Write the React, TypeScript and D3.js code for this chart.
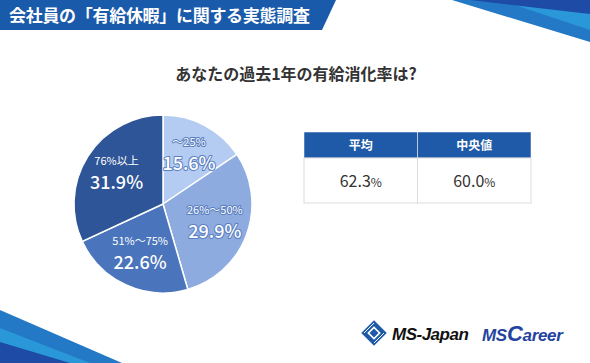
import React from "react";
import * as d3 from "d3";

const categories = ["〜25%", "26%〜50%", "51%〜75%", "76%以上"];
const shares = [15.6, 29.9, 22.6, 31.9];
const sliceColors = ["#b4cbf2", "#8eabe0", "#4a74bb", "#2e5597"];
const tableHeads = ["平均", "中央値"];
const tableValues = ["62.3", "60.0"];

const W = 590;
const H = 363;
const font = "'Noto Sans CJK JP', 'Noto Sans', sans-serif";

export default function App() {
  const cx = 163;
  const cy = 204;
  const r = 89;
  const pie = d3.pie<number>().sort(null).value((d) => d);
  const arcs = pie(shares);
  const arc = d3.arc<d3.PieArcDatum<number>>().innerRadius(0).outerRadius(r);
  const labelArc = d3.arc<d3.PieArcDatum<number>>().innerRadius(r * 0.62).outerRadius(r * 0.62);

  // table columns
  const tx = d3.scaleBand<string>().domain(tableHeads).range([304, 531]);

  return (
    <div style={{ position: "fixed", left: 0, top: 0 }}>
      <svg width={W} height={H} style={{ display: "block", background: "#fff", fontFamily: font }}>
        {/* banner */}
        <polygon points="0,0 336,0 322,30 0,30" fill="#1a5aaa" />
        <text x={9} y={22} fill="#fff" fontSize={17} fontWeight={700} letterSpacing={-0.3}>
          会社員の「有給休暇」に関する実態調査
        </text>

        {/* corner decorations */}
        <polygon points="452,0 590,0 590,42" fill="#2379c6" />
        <polygon points="500,0 590,0 590,30" fill="#2a97d8" />
        <polygon points="470,0 590,0 590,14" fill="#1d4ba6" />
        <polygon points="0,310 122,363 0,363" fill="#2379c6" />
        <polygon points="0,328 90,363 0,363" fill="#2a97d8" />
        <polygon points="0,342 70,363 0,363" fill="#1d4ba6" />

        <text x={296} y={80} textAnchor="middle" fill="#333" fontSize={16} fontWeight={700}>
          あなたの過去1年の有給消化率は?
        </text>

        {/* pie */}
        <g transform={`translate(${cx},${cy})`}>
          {arcs.map((a, i) => (
            <path key={i} d={arc(a) || ""} fill={sliceColors[i]} stroke="#fff" strokeWidth={1.5} />
          ))}
          {arcs.map((a, i) => {
            const [lx, ly] = labelArc.centroid(a);
            const outline = i < 2 ? "#5a7fc0" : "none";
            return (
              <g key={"l" + i} transform={`translate(${lx},${ly})`} fill="#fff" textAnchor="middle"
                stroke={outline} strokeWidth={2} strokeLinejoin="round" style={{ paintOrder: "stroke" }}>
                <text y={-9} fontSize={11}>{categories[i]}</text>
                <text y={15} fontSize={18} fontWeight={500}>{shares[i].toFixed(1)}%</text>
              </g>
            );
          })}
        </g>

        {/* table */}
        <g>
          {tableHeads.map((h, i) => (
            <g key={h}>
              <rect x={tx(h)} y={132} width={tx.bandwidth()} height={26} fill="#1f5aa8" stroke="#fff" strokeWidth={0.5} />
              <rect x={tx(h)} y={158} width={tx.bandwidth()} height={45} fill="#fff" stroke="#dcdcdc" strokeWidth={1} />
              <text x={(tx(h) || 0) + tx.bandwidth() / 2} y={150} textAnchor="middle" fill="#fff" fontSize={12} fontWeight={700}>{h}</text>
              <text x={(tx(h) || 0) + tx.bandwidth() / 2} y={187} textAnchor="middle" fill="#333" fontSize={16}>
                {tableValues[i]}<tspan fontSize={12}>%</tspan>
              </text>
            </g>
          ))}
        </g>

        {/* logos */}
        <g transform="translate(374,333)">
          <rect x={-9} y={-9} width={18} height={18} fill="#1f5aa8" transform="rotate(45)" />
          <rect x={-4} y={-4} width={8} height={8} fill="none" stroke="#fff" strokeWidth={1.6} transform="rotate(45)" />
          <path d="M-10,0 L0,-10 M0,10 L10,0" stroke="#fff" strokeWidth={1} />
        </g>
        <text x={392} y={340} fontSize={17} fontWeight={700} fontStyle="italic" fill="#111"
          fontFamily="'Liberation Sans', Arial, sans-serif" letterSpacing={-0.5}>MS-Japan</text>
        <text x={482} y={341} fontSize={17} fontWeight={700} fontStyle="italic" fill="#2544a0"
          fontFamily="'Liberation Sans', Arial, sans-serif" letterSpacing={-0.3}>
          MS<tspan fontSize={22}>C</tspan>areer
        </text>
      </svg>
    </div>
  );
}
